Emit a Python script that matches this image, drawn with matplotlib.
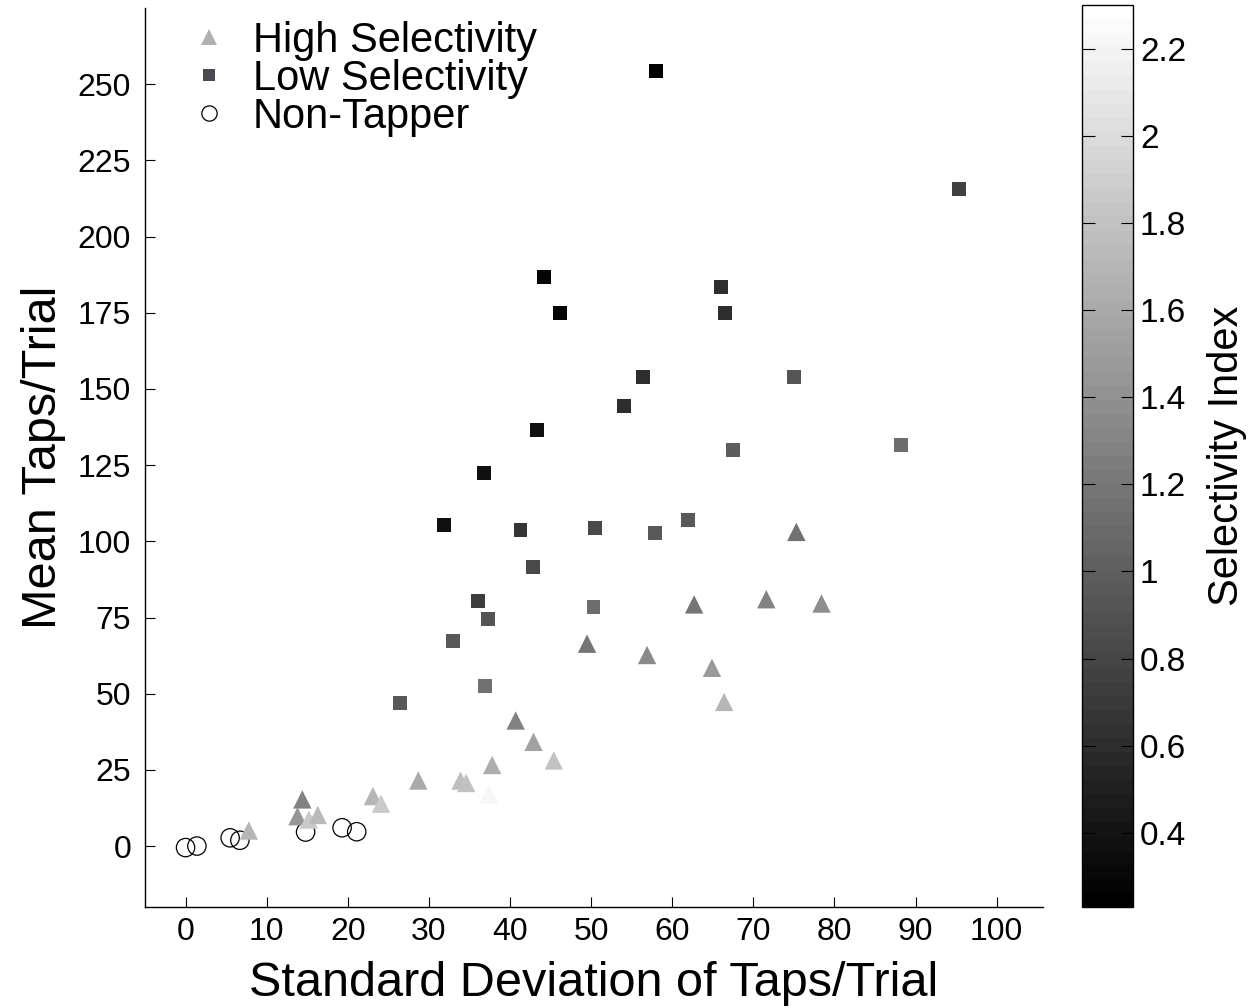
import numpy as np
import matplotlib
matplotlib.use('Agg')
import matplotlib.pyplot as plt
from matplotlib.lines import Line2D

plt.rcParams['font.family'] = ['Liberation Sans', 'DejaVu Sans']

# high selectivity tappers (triangles)
high_sd = [7.8, 14.4, 13.8, 15.2, 16.3, 23.1, 24.1, 28.7, 33.9, 34.6, 37.8, 37.4,
           40.7, 42.9, 45.4, 49.5, 56.9, 62.7, 71.6, 64.9, 66.4, 75.3, 78.4]
high_mean = [5.1, 15.3, 9.8, 8.7, 10.2, 16.4, 13.9, 21.5, 21.5, 20.7, 26.6, 17.0,
             41.2, 34.2, 28.1, 66.4, 62.7, 79.3, 81.0, 58.5, 47.3, 103.1, 79.6]
high_si = [1.69, 1.29, 1.45, 1.85, 1.73, 1.69, 1.85, 1.61, 1.77, 1.81, 1.65, 2.22,
           1.29, 1.53, 1.81, 1.20, 1.33, 1.20, 1.29, 1.49, 1.69, 1.16, 1.37]

# low selectivity tappers (squares)
low_sd = [58.0, 44.2, 46.2, 66.0, 66.5, 56.4, 54.1, 43.3, 67.5, 36.8, 31.9, 41.3, 50.5,
          57.9, 61.9, 42.8, 36.1, 37.3, 50.3, 33.0, 36.9, 26.4, 95.3, 88.2, 75.0]
low_mean = [254.3, 186.7, 174.9, 183.6, 175.0, 153.9, 144.4, 136.6, 130.1, 122.5, 105.4,
            103.8, 104.4, 102.8, 107.0, 91.7, 80.5, 74.5, 78.5, 67.3, 52.4, 46.8,
            215.6, 131.6, 153.9]
low_si = [0.24, 0.27, 0.27, 0.60, 0.60, 0.60, 0.60, 0.39, 1.00, 0.39, 0.39, 0.68, 0.84,
          0.96, 0.96, 0.84, 0.72, 0.92, 1.12, 0.96, 1.16, 0.96, 0.76, 1.12, 0.92]

# non-tappers (open circles)
non_sd = [0.0, 1.4, 5.5, 6.7, 14.8, 19.3, 21.1]
non_mean = [-0.5, 0.0, 2.7, 1.9, 4.6, 6.0, 4.7]

si_min, si_max = 0.23, 2.30
cmap = matplotlib.colormaps['gray'].resampled(64)

fig = plt.figure(figsize=(12.52, 10.08), dpi=100)
ax = fig.add_axes([0.1158, 0.1002, 0.7172, 0.8918])
cax = fig.add_axes([0.8642, 0.1002, 0.0407, 0.8948])

ax.scatter(non_sd, non_mean, s=175, marker='o', facecolors='none',
           edgecolors='black', linewidths=0.9, zorder=3)
ax.scatter(high_sd, high_mean, c=high_si, cmap=cmap, vmin=si_min, vmax=si_max,
           s=175, marker='^', linewidths=0, zorder=3)
sc = ax.scatter(low_sd, low_mean, c=low_si, cmap=cmap, vmin=si_min, vmax=si_max,
                s=100, marker='s', linewidths=0, zorder=3)

ax.set_xlim(-5, 105.7)
ax.set_ylim(-20, 275)
ax.set_xticks(np.arange(0, 101, 10))
ax.set_yticks(np.arange(0, 251, 25))
ax.spines['top'].set_visible(False)
ax.spines['right'].set_visible(False)
for sp in ('left', 'bottom'):
    ax.spines[sp].set_linewidth(1.0)
ax.tick_params(direction='in', length=7, width=0.8, labelsize=23)
ax.tick_params(axis='y', pad=10)
ax.tick_params(axis='x', pad=7)
ax.set_xlabel('Standard Deviation of Taps/Trial', fontsize=35, labelpad=10)
ax.set_ylabel('Mean Taps/Trial', fontsize=35, labelpad=8)

handles = [
    Line2D([], [], linestyle='none', marker='^', markersize=11,
           markerfacecolor=(0.68, 0.70, 0.70), markeredgewidth=0),
    Line2D([], [], linestyle='none', marker='s', markersize=9,
           markerfacecolor=(0.29, 0.29, 0.32), markeredgewidth=0),
    Line2D([], [], linestyle='none', marker='o', markersize=11,
           markerfacecolor='none', markeredgecolor='black', markeredgewidth=0.9),
]
ax.legend(handles, ['High Selectivity', 'Low Selectivity', 'Non-Tapper'],
          loc='upper left', bbox_to_anchor=(0.016, 1.018), frameon=False,
          fontsize=30, handlelength=1.0, handletextpad=0.55, labelspacing=-0.05,
          borderpad=0.2)

cb = fig.colorbar(sc, cax=cax)
cb.set_ticks(np.arange(0.4, 2.21, 0.2))
cb.ax.set_yticklabels(['%g' % round(t, 1) for t in np.arange(0.4, 2.21, 0.2)])
cb.outline.set_linewidth(1.0)
cax.tick_params(direction='in', left=True, right=True, length=9, width=0.8,
                labelsize=24, pad=5)
cb.set_label('Selectivity Index', fontsize=30, labelpad=15)

fig.savefig('out.png', dpi=100)
